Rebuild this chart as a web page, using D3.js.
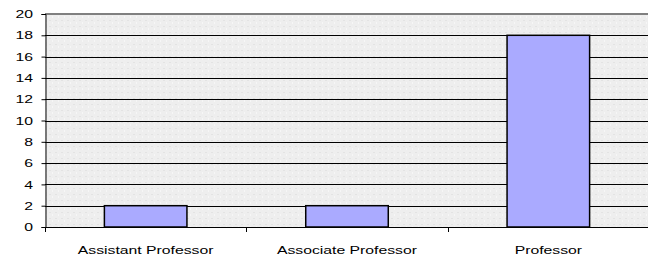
<!DOCTYPE html>
<html><head><meta charset="utf-8">
<script src="https://cdn.jsdelivr.net/npm/d3@7"></script>
<style>body{margin:0;background:#fff}svg{display:block}</style>
</head><body>
<svg id="c" width="648" height="262"></svg>
<script>
const categories = ["Assistant Professor", "Associate Professor", "Professor"];
const values = [2, 2, 18];
const yTicks = [0, 2, 4, 6, 8, 10, 12, 14, 16, 18, 20];

const svg = d3.select("#c");
const L = 45, R = 649, T = 14, B = 227;
const SX = 1.37;
const FONT = "'Liberation Sans', Arial, sans-serif";
const x = d3.scaleBand().domain(categories).range([L, R]).paddingInner(0.59).paddingOuter(0.295);
const y = d3.scaleLinear().domain([0, 20]).range([B, T]);

// textured background
const defs = svg.append("defs");
const pat = defs.append("pattern").attr("id","tex").attr("width",6).attr("height",6).attr("patternUnits","userSpaceOnUse");
pat.append("rect").attr("width",6).attr("height",6).attr("fill","#eeeeee");
pat.append("rect").attr("x",1).attr("y",2).attr("width",2).attr("height",1).attr("fill","#e3e3e3");
pat.append("rect").attr("x",4).attr("y",4).attr("width",1).attr("height",2).attr("fill","#f6f6f6");

svg.append("rect").attr("x", L).attr("y", T).attr("width", R - L).attr("height", B - T).attr("fill", "url(#tex)");

// gridlines
svg.append("g").selectAll("line").data(yTicks.filter(d => d > 0 && d < 20)).join("line")
  .attr("x1", L).attr("x2", R).attr("y1", d => Math.round(y(d)) + 0.5).attr("y2", d => Math.round(y(d)) + 0.5)
  .attr("stroke", "#000").attr("stroke-width", 1);
svg.append("line").attr("x1", L).attr("x2", R).attr("y1", T).attr("y2", T).attr("stroke", "#808080").attr("stroke-width", 2);

// bars
svg.append("g").selectAll("rect").data(values).join("rect")
  .attr("x", (d, i) => x(categories[i]))
  .attr("y", d => y(d))
  .attr("width", x.bandwidth())
  .attr("height", d => y(0) - y(d))
  .attr("fill", "#aaaaff").attr("stroke", "#000").attr("stroke-width", 1.5);

// y axis
const ya = d3.axisLeft(y).tickValues(yTicks).tickSize(4).tickPadding(4);
const gy = svg.append("g").attr("transform", `translate(${L + 0.5},0)`).call(ya);
gy.select(".domain").attr("stroke", "#000");
gy.selectAll(".tick line").attr("stroke", "#000");
gy.selectAll("text").attr("font-family", FONT).attr("font-size", 11.5).attr("fill", "#000")
  .attr("x", -12.5 / SX).attr("transform", `scale(${SX},1)`);

// x axis
const xa = d3.axisBottom(x).tickSize(0);
const gx = svg.append("g").attr("transform", `translate(0,${B + 0.5})`).call(xa);
gx.select(".domain").remove();
gx.selectAll("text").attr("font-family", FONT).attr("font-size", 11.5).attr("fill", "#000")
  .attr("y", 26.5).attr("dy", 0).attr("transform", `scale(${SX},1)`);
svg.append("line").attr("x1", L).attr("x2", R).attr("y1", B + 0.5).attr("y2", B + 0.5).attr("stroke", "#000");
// category boundary ticks
svg.append("g").selectAll("line").data(categories.map((c, i) => L + i * x.step())).join("line")
  .attr("x1", d => Math.round(d) + 0.5).attr("x2", d => Math.round(d) + 0.5).attr("y1", B).attr("y2", B + 5).attr("stroke", "#000");
</script>
</body></html>
